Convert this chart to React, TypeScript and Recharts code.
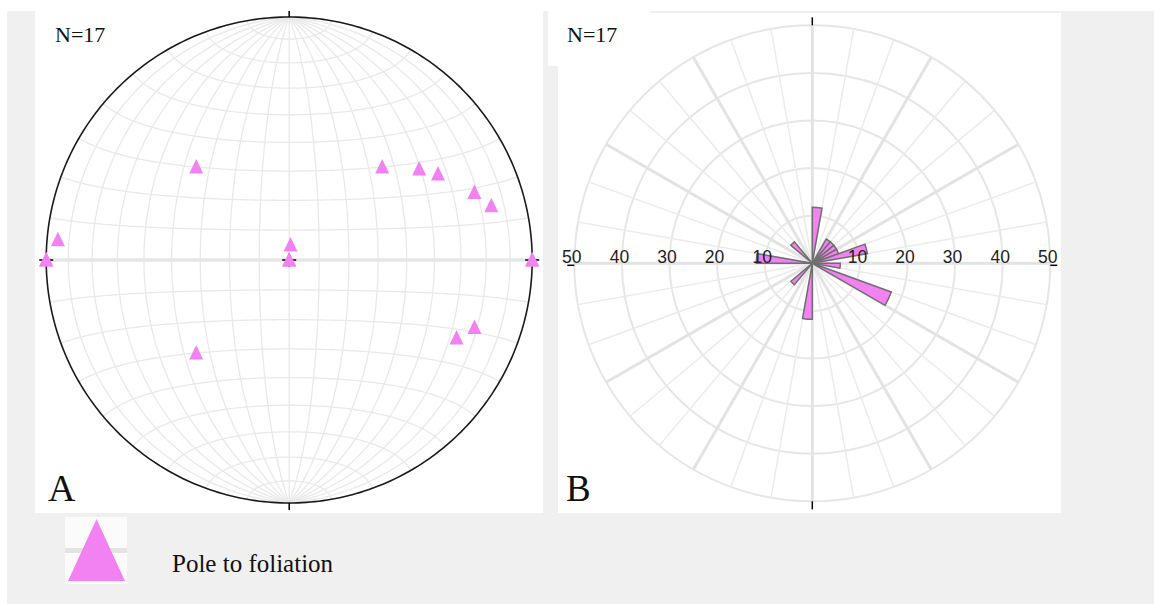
import React from 'react';
import {
  ComposedChart,
  Line,
  Scatter,
  XAxis,
  YAxis,
  ReferenceLine,
  RadarChart,
  Radar,
  PolarGrid,
  PolarAngleAxis,
  PolarRadiusAxis,
  Sector,
} from 'recharts';

// ---------------- DATA ----------------
// Poles to foliation (lower hemisphere): trend and plunge in degrees
const poleTrend = [315, 45, 55, 60, 70, 75, 275, 270, 5, 0, 90, 225, 115, 110, 270, 90, 0];
const polePlunge = [45, 45, 35, 30, 20, 15, 5, 0, 85, 90, 0, 45, 25, 20, 0, 0, 90];

// Rose diagram: 10-degree bins (start azimuth) and percentage of N=17
const roseBinStart = [
  0, 10, 20, 30, 40, 50, 60, 70, 80, 90, 100, 110,
  120, 130, 140, 150, 160, 170, 180, 190, 200, 210, 220, 230,
  240, 250, 260, 270, 280, 290, 300, 310, 320, 330, 340, 350,
];
const roseValue = [
  11.76, 0, 0, 5.88, 5.88, 5.88, 5.88, 11.76, 0, 5.88, 0, 17.65,
  0, 0, 0, 0, 0, 0, 11.76, 0, 0, 0, 5.88, 0,
  0, 0, 0, 11.76, 0, 0, 0, 5.88, 0, 0, 0, 0,
];
const roseRadiusDomain = [0, 50];
const roseTickCount = 6;

// ---------------- LAYOUT ----------------
const NET = { left: 35, top: 11, width: 508, height: 502, cx: 289.2, cy: 260, r: 243 };
const ROSE = { left: 558, top: 13, width: 502, height: 500, cx: 812.3, cy: 263.3, r: 238 };
const PINK = '#f282f2';

// ---------------- STEREONET GEOMETRY (Schmidt equal-area, lower hemisphere) -------------
const rad = Math.PI / 180;
const clamp1 = (v: number) => Math.max(-1, Math.min(1, v));
const projectLine = (trend: number, plunge: number) => {
  const r = Math.min(1, Math.SQRT2 * Math.sin(((90 - plunge) * rad) / 2));
  return { x: clamp1(r * Math.sin(trend * rad)), y: clamp1(r * Math.cos(trend * rad)) };
};
// point on the net for "longitude" phi (about N-S axis) and "latitude" lam
const netPoint = (phi: number, lam: number) => {
  const n = Math.sin(lam * rad);
  const e = Math.cos(lam * rad) * Math.sin(phi * rad);
  const d = Math.cos(lam * rad) * Math.cos(phi * rad);
  const h = Math.hypot(e, n);
  const r = Math.min(1, Math.sqrt(Math.max(0, 1 - d)));
  if (h < 1e-12) return { x: 0, y: 0 };
  return { x: clamp1((r * e) / h), y: clamp1((r * n) / h) };
};
const range = (a: number, b: number, s: number) => {
  const out: number[] = [];
  for (let v = a; v <= b + 1e-9; v += s) out.push(v);
  return out;
};
const meridians = range(-80, 80, 10).map((phi) => range(-90, 90, 1).map((lam) => netPoint(phi, lam)));
const smallCircles = range(-80, 80, 10)
  .filter((l) => l !== 0)
  .map((lam) => range(-90, 90, 1).map((phi) => netPoint(phi, lam)));
const equator = [netPoint(-90, 0), netPoint(90, 0)];
const primitive = range(0, 360, 1).map((t) => projectLine(t, 0));

const poleData = poleTrend.map((t, i) => projectLine(t, polePlunge[i]));
const roseData = roseBinStart.map((b, i) => ({ bin: String(b), value: roseValue[i] }));

const spokeAngles = range(0, 350, 10);
const majorSpokeAngles = range(0, 330, 30);

// tick sizes in data units of the net
const tk = 7 / NET.r;

// ---------------- SHAPES ----------------
const Triangle = (p: any) => {
  const { cx, cy } = p;
  if (cx == null || cy == null) return <g />;
  return (
    <polygon
      points={`${cx},${cy - 8} ${cx - 7},${cy + 6.5} ${cx + 7},${cy + 6.5}`}
      fill={PINK}
      stroke="none"
    />
  );
};

const RoseShape = (props: any) => {
  const pts = props.points || [];
  return (
    <g>
      {pts.map((p: any, i: number) =>
        p.value > 0 ? (
          <Sector
            key={i}
            cx={p.cx ?? props.cx}
            cy={p.cy ?? props.cy}
            innerRadius={0}
            outerRadius={p.radius}
            startAngle={p.angle + 5}
            endAngle={p.angle - 5}
            fill={PINK}
            stroke="#6f6f6f"
            strokeWidth={1.5}
          />
        ) : null,
      )}
    </g>
  );
};

const chartCx = ROSE.cx - ROSE.left;
const renderRoseTick = (props: any) => {
  const { x, y, payload } = props;
  if (!payload || payload.value === 0) return <g />;
  const mirrorX = 2 * chartCx - x;
  const style = { fontFamily: '"Liberation Sans", Arial, sans-serif', fontSize: 17.5 };
  return (
    <g>
      <text x={x - 2.5} y={y - 0.5} textAnchor="middle" fill="#1e1e1e" style={style}>
        {payload.value}
      </text>
      <text x={mirrorX - 2.5} y={y - 0.5} textAnchor="middle" fill="#1e1e1e" style={style}>
        {payload.value}
      </text>
    </g>
  );
};

const serif = '"Liberation Serif", "Times New Roman", serif';

export default function App() {
  return (
    <div style={{ position: 'absolute', left: 0, top: 0, width: 1154, height: 604, background: '#fff', overflow: 'hidden' }}>
      {/* background */}
      <div style={{ position: 'absolute', left: 7, top: 11, width: 1147, height: 593, background: '#f0f0f0' }} />
      <div style={{ position: 'absolute', left: NET.left, top: NET.top, width: NET.width, height: NET.height, background: '#fff' }} />
      <div style={{ position: 'absolute', left: ROSE.left, top: ROSE.top, width: ROSE.width + 1, height: ROSE.height, background: '#fff' }} />
      <div style={{ position: 'absolute', left: 548, top: 11, width: 102, height: 55, background: '#fff' }} />

      {/* A: stereonet */}
      <div style={{ position: 'absolute', left: NET.left, top: NET.top }}>
        <ComposedChart
          width={NET.width}
          height={NET.height}
          style={{ overflow: 'visible' }}
          margin={{
            left: NET.cx - NET.r - NET.left,
            top: NET.cy - NET.r - NET.top,
            right: NET.width - (NET.cx - NET.left + NET.r),
            bottom: NET.height - (NET.cy - NET.top + NET.r),
          }}
        >
          <XAxis type="number" dataKey="x" domain={[-1, 1]} hide />
          <YAxis type="number" dataKey="y" domain={[-1, 1]} hide />
          {meridians.map((pts, i) => (
            <Line key={'m' + i} data={pts} dataKey="y" type="linear" stroke="#e9e9e9" strokeWidth={1.3}
              dot={false} activeDot={false} isAnimationActive={false} legendType="none" />
          ))}
          {smallCircles.map((pts, i) => (
            <Line key={'s' + i} data={pts} dataKey="y" type="linear" stroke="#e9e9e9" strokeWidth={1.3}
              dot={false} activeDot={false} isAnimationActive={false} legendType="none" />
          ))}
          <Line data={equator} dataKey="y" type="linear" stroke="#e6e6e6" strokeWidth={3.5}
            dot={false} activeDot={false} isAnimationActive={false} legendType="none" />
          <Line data={primitive} dataKey="y" type="linear" stroke="#1a1a1a" strokeWidth={1.6}
            dot={false} activeDot={false} isAnimationActive={false} legendType="none" />
          <ReferenceLine segment={[{ x: 0, y: 1 }, { x: 0, y: 1 + tk }]} stroke="#000" strokeWidth={1.5} ifOverflow="visible" />
          <ReferenceLine segment={[{ x: 0, y: -1 }, { x: 0, y: -1 - tk }]} stroke="#000" strokeWidth={1.5} ifOverflow="visible" />
          <ReferenceLine segment={[{ x: 1 - tk, y: 0 }, { x: 1 + tk, y: 0 }]} stroke="#000" strokeWidth={1.5} ifOverflow="visible" />
          <ReferenceLine segment={[{ x: -1 - tk, y: 0 }, { x: -1 + tk, y: 0 }]} stroke="#000" strokeWidth={1.5} ifOverflow="visible" />
          <ReferenceLine segment={[{ x: -tk, y: 0 }, { x: tk, y: 0 }]} stroke="#000" strokeWidth={1.5} ifOverflow="visible" />
          <ReferenceLine segment={[{ x: 0, y: -tk }, { x: 0, y: tk }]} stroke="#000" strokeWidth={1.5} ifOverflow="visible" />
          <Scatter data={poleData} shape={Triangle} isAnimationActive={false} legendType="none" />
        </ComposedChart>
      </div>

      {/* B: rose diagram */}
      <div style={{ position: 'absolute', left: ROSE.left, top: ROSE.top }}>
        <RadarChart
          width={ROSE.width}
          height={ROSE.height}
          cx={ROSE.cx - ROSE.left}
          cy={ROSE.cy - ROSE.top}
          outerRadius={ROSE.r}
          startAngle={85}
          endAngle={-275}
          data={roseData}
          margin={{ top: 0, right: 0, bottom: 0, left: 0 }}
        >
          <PolarGrid gridType="circle" radialLines={false} stroke="#e6e6e6" strokeWidth={2} />
          <PolarGrid gridType="circle" polarAngles={spokeAngles} polarRadius={[0]} stroke="#ebebeb" strokeWidth={1.5} />
          <PolarGrid gridType="circle" polarAngles={majorSpokeAngles} polarRadius={[0]} stroke="#e3e3e3" strokeWidth={3} />
          <PolarAngleAxis dataKey="bin" tick={false} axisLine={false} tickLine={false} />
          <PolarRadiusAxis angle={0} type="number" domain={roseRadiusDomain} tickCount={roseTickCount}
            axisLine={false} tickLine={false} tick={renderRoseTick} />
          <Radar dataKey="value" shape={RoseShape} isAnimationActive={false} dot={false} legendType="none" />
        </RadarChart>
      </div>

      {/* overlay: labels, cardinal ticks, legend */}
      <svg width={1154} height={604} style={{ position: 'absolute', left: 0, top: 0, pointerEvents: 'none' }}>
        <g stroke="#000" strokeWidth={1.5}>
          <line x1={ROSE.cx} y1={ROSE.cy - ROSE.r} x2={ROSE.cx} y2={ROSE.cy - ROSE.r - 8} />
          <line x1={ROSE.cx} y1={ROSE.cy + ROSE.r} x2={ROSE.cx} y2={ROSE.cy + ROSE.r + 8} />
          <line x1={ROSE.cx + ROSE.r} y1={ROSE.cy + 2} x2={ROSE.cx + ROSE.r + 7} y2={ROSE.cy + 2} />
          <line x1={ROSE.cx - ROSE.r} y1={ROSE.cy + 2} x2={ROSE.cx - ROSE.r - 7} y2={ROSE.cy + 2} />
        </g>
        <text x={55} y={42} fontFamily={serif} fontSize={22} fill="#111">N=17</text>
        <text x={567} y={42} fontFamily={serif} fontSize={22} fill="#111">N=17</text>
        <text x={48} y={501} fontFamily={serif} fontSize={38} fill="#111">A</text>
        <text x={566} y={501} fontFamily={serif} fontSize={37} fill="#111">B</text>
        {/* legend */}
        <rect x={65} y={517} width={62} height={67} fill="#fbfbfb" />
        <rect x={65} y={548} width={62} height={5} fill="#e4e4e4" />
        <polygon points="96.5,519 68,581 125,581" fill={PINK} />
        <text x={172} y={572} fontFamily={serif} fontSize={25} fill="#111">Pole to foliation</text>
      </svg>
    </div>
  );
}
